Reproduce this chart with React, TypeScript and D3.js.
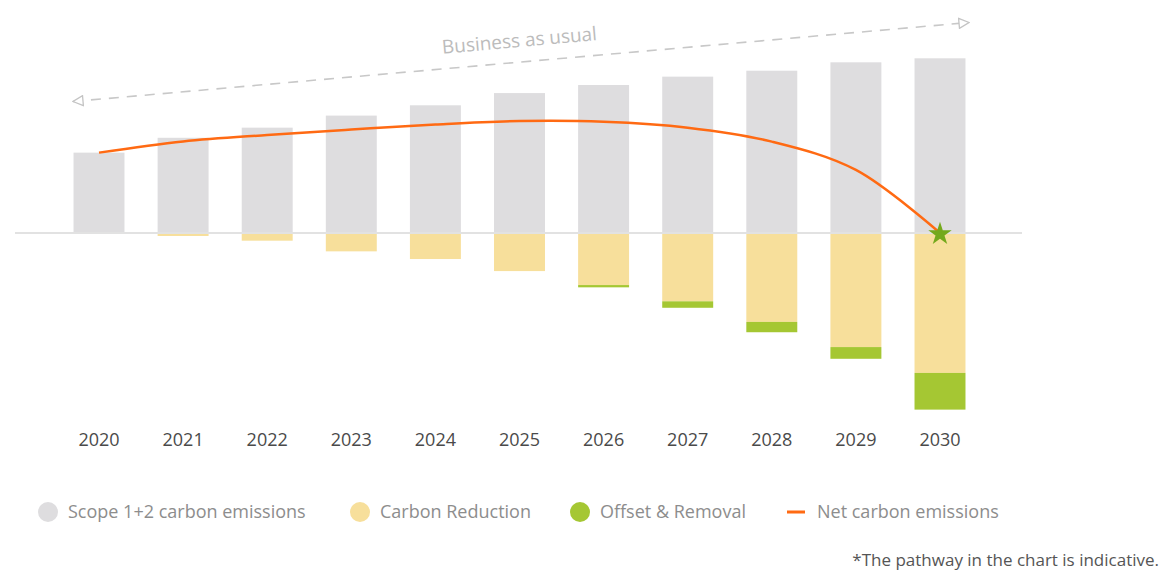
import React, { useEffect, useRef } from "react";
import * as d3 from "d3";

// chart values (arbitrary units, 2030 scope total = 100)
const years = ["2020", "2021", "2022", "2023", "2024", "2025", "2026", "2027", "2028", "2029", "2030"];
const scopeEmissions = [46, 54.5, 60.3, 67.2, 73.1, 80.1, 84.7, 89.5, 92.9, 97.7, 100];
const carbonReduction = [0, 1.7, 4.4, 10.5, 14.9, 21.8, 29.8, 39.1, 50.9, 65.3, 80.1];
const offsetRemoval = [0, 0, 0, 0, 0, 0, 1.3, 3.7, 5.9, 6.7, 21.0];
const netEmissions = [46, 52.4, 56.1, 59.2, 62.1, 64.1, 63.7, 60.3, 52.3, 36.1, 0];

const legendLabels = ["Scope 1+2 carbon emissions", "Carbon Reduction", "Offset & Removal", "Net carbon emissions"];
const colors = ["#dedddf", "#f7df9b", "#a5c733", "#ff6a13"];

const App: React.FC = () => {
  const svgRef = useRef<SVGSVGElement | null>(null);

  useEffect(() => {
    document.body.style.margin = "0";
    const width = 1159;
    const height = 571;
    const font = "'Open Sans', 'Noto Sans', sans-serif";

    const svg = d3.select(svgRef.current).attr("width", width).attr("height", height);
    svg.selectAll("*").remove();
    svg.append("rect").attr("width", width).attr("height", height).attr("fill", "#fff");

    const x = d3
      .scaleBand()
      .domain(years)
      .range([56.95, 982.05])
      .paddingInner(0.394)
      .paddingOuter(0.197);

    const y = d3.scaleLinear().domain([0, 100]).range([233, 58.3]);

    // gray bars
    svg
      .append("g")
      .selectAll("rect")
      .data(scopeEmissions)
      .join("rect")
      .attr("x", (_, i) => x(years[i]) as number)
      .attr("y", (d) => y(d))
      .attr("width", x.bandwidth())
      .attr("height", (d) => y(0) - y(d))
      .attr("fill", colors[0]);

    // reduction below baseline
    svg
      .append("g")
      .selectAll("rect")
      .data(carbonReduction)
      .join("rect")
      .attr("x", (_, i) => x(years[i]) as number)
      .attr("y", y(0))
      .attr("width", x.bandwidth())
      .attr("height", (d) => y(0) - y(d))
      .attr("fill", colors[1]);

    // offset under reduction
    svg
      .append("g")
      .selectAll("rect")
      .data(offsetRemoval)
      .join("rect")
      .attr("x", (_, i) => x(years[i]) as number)
      .attr("y", (_, i) => y(0) + (y(0) - y(carbonReduction[i])))
      .attr("width", x.bandwidth())
      .attr("height", (d) => y(0) - y(d))
      .attr("fill", colors[2]);

    // baseline
    svg
      .append("line")
      .attr("x1", 15)
      .attr("x2", 1022)
      .attr("y1", y(0))
      .attr("y2", y(0))
      .attr("stroke", "#e2e2e2")
      .attr("stroke-width", 2);

    // year labels
    svg
      .append("g")
      .selectAll("text")
      .data(years)
      .join("text")
      .attr("x", (d) => (x(d) as number) + x.bandwidth() / 2)
      .attr("y", 446)
      .attr("text-anchor", "middle")
      .style("font-family", font)
      .style("font-size", "18px")
      .attr("fill", "#4a4a4a")
      .text((d) => d);

    // net line
    const line = d3
      .line<number>()
      .x((_, i) => (x(years[i]) as number) + x.bandwidth() / 2)
      .y((d) => y(d))
      .curve(d3.curveCatmullRom.alpha(0.5));

    svg
      .append("path")
      .datum(netEmissions)
      .attr("d", line)
      .attr("fill", "none")
      .attr("stroke", colors[3])
      .attr("stroke-width", 2.5);

    // star at net zero
    svg
      .append("path")
      .attr("d", d3.symbol().type(d3.symbolStar).size(170)())
      .attr(
        "transform",
        `translate(${(x("2030") as number) + x.bandwidth() / 2},${y(netEmissions[10]) + 1})`,
      )
      .attr("fill", "#74a91c");

    // business as usual arrow
    const defs = svg.append("defs");
    ["start", "end"].forEach((k) => {
      defs
        .append("marker")
        .attr("id", "tri-" + k)
        .attr("viewBox", "0 0 12 12")
        .attr("refX", 11)
        .attr("refY", 6)
        .attr("markerWidth", 12)
        .attr("markerHeight", 12)
        .attr("markerUnits", "userSpaceOnUse")
        .attr("orient", k === "start" ? "auto-start-reverse" : "auto")
        .append("path")
        .attr("d", "M1,1 L11,6 L1,11 Z")
        .attr("fill", "#fff")
        .attr("stroke", "#c4c4c4")
        .attr("stroke-width", 1.3);
    });

    const ax0 = 73, ay0 = 101.5, ax1 = 969, ay1 = 22.5;
    svg
      .append("line")
      .attr("x1", ax0)
      .attr("y1", ay0)
      .attr("x2", ax1)
      .attr("y2", ay1)
      .attr("stroke", "#c8c8c8")
      .attr("stroke-width", 1.6)
      .attr("stroke-dasharray", "10 8")
      .attr("marker-start", "url(#tri-start)")
      .attr("marker-end", "url(#tri-end)");

    const angle = (Math.atan2(ay1 - ay0, ax1 - ax0) * 180) / Math.PI;
    svg
      .append("text")
      .attr("transform", `translate(520,47) rotate(${angle})`)
      .attr("text-anchor", "middle")
      .style("font-family", font)
      .style("font-size", "19px")
      .attr("fill", "#bcbcbc")
      .text("Business as usual");

    // legend
    const legendX = [48, 360, 580, 796];
    const legend = svg
      .append("g")
      .selectAll("g")
      .data(legendLabels)
      .join("g")
      .attr("transform", (_, i) => `translate(${legendX[i]},512)`);

    legend.each(function (_, i) {
      const g = d3.select(this);
      if (i < 3) {
        g.append("circle").attr("r", 10).attr("fill", colors[i]);
      } else {
        g.append("rect").attr("x", -9).attr("y", -1.5).attr("width", 18).attr("height", 3).attr("fill", colors[3]);
      }
    });

    legend
      .append("text")
      .attr("x", (_, i) => (i < 3 ? 20 : 21))
      .attr("y", 6)
      .style("font-family", font)
      .style("font-size", "18px")
      .attr("fill", "#8d8d8d")
      .text((d) => d);

    svg
      .append("text")
      .attr("x", 1159)
      .attr("y", 566)
      .attr("text-anchor", "end")
      .style("font-family", font)
      .style("font-size", "17px")
      .attr("fill", "#555")
      .text("*The pathway in the chart is indicative.");
  }, []);

  return (
    <div style={{ width: "1159px", height: "571px" }}>
      <svg ref={svgRef} style={{ display: "block" }}></svg>
    </div>
  );
};

export default App;
